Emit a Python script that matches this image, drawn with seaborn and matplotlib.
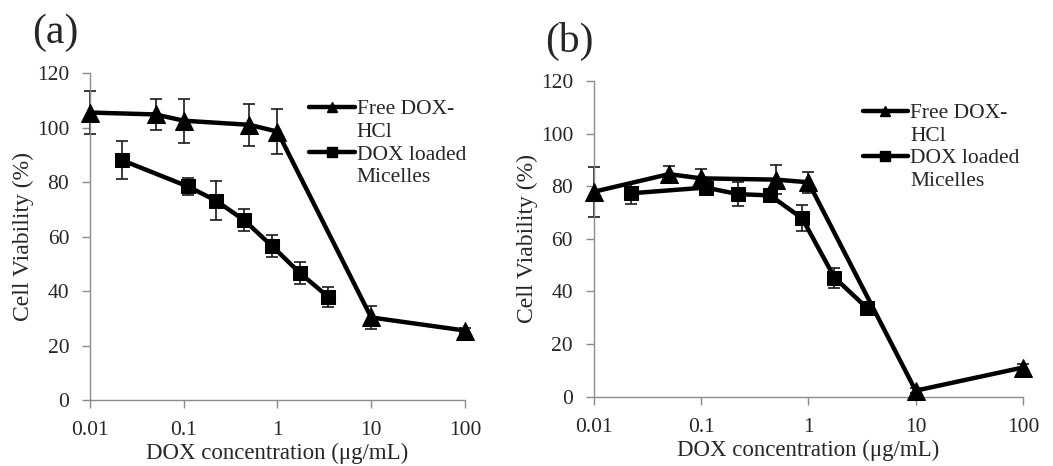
import numpy as np
import pandas as pd
import matplotlib
matplotlib.use('Agg')
import matplotlib.pyplot as plt
import seaborn as sns
from matplotlib.lines import Line2D

# ---- data ----
free_conc = [0.01, 0.05, 0.1, 0.5, 1, 10, 100]
mic_conc = [0.022, 0.11, 0.22, 0.44, 0.875, 1.75, 3.5]

a_free = [105.5, 104.8, 102.5, 101.0, 98.5, 30.3, 25.5]
a_free_err = [8.0, 5.7, 8.0, 7.8, 8.3, 4.2, 1.0]
a_mic = [88.0, 78.4, 73.2, 66.0, 56.5, 46.5, 37.8]
a_mic_err = [7.0, 3.0, 7.3, 4.0, 4.0, 4.0, 3.5]

b_free = [77.9, 84.6, 83.0, 82.5, 81.5, 2.3, 11.1]
b_free_err = [9.5, 3.0, 3.4, 5.5, 4.0, 1.0, 1.5]
b_mic = [77.3, 79.5, 77.0, 76.5, 67.8, 45.3, 33.8]
b_mic_err = [4.0, 3.0, 4.5, 2.0, 5.0, 3.8, 2.0]

series_names = ["Free DOX-HCl", "DOX loaded Micelles"]
legend_lines = ["Free DOX-", "HCl", "DOX loaded", "Micelles"]
x_ticks = [0.01, 0.1, 1, 10, 100]
x_ticklabels = ["0.01", "0.1", "1", "10", "100"]
y_ticks = [0, 20, 40, 60, 80, 100, 120]
xlabel = "DOX concentration (\u03bcg/mL)"
ylabel = "Cell Viability (%)"
panel_labels = ["(a)", "(b)"]

sns.set_style("white")
plt.rcParams['font.family'] = ['Liberation Serif', 'DejaVu Serif']

fig = plt.figure(figsize=(10.53, 4.66), dpi=100)
axA = fig.add_axes([0.0855, 0.1416, 0.356, 0.7017])
axB = fig.add_axes([0.564, 0.1487, 0.4074, 0.6775])

spine_color = '#8c8c8c'


def draw(ax, fy, fe, my, me, leg_anchor):
    df = pd.concat([
        pd.DataFrame({'conc': free_conc, 'viab': fy, 'series': series_names[0]}),
        pd.DataFrame({'conc': mic_conc, 'viab': my, 'series': series_names[1]}),
    ])
    ax.errorbar(free_conc, fy, yerr=fe, fmt='none', ecolor='#1a1a1a',
                elinewidth=1.2, capsize=4, capthick=1.2, zorder=2, clip_on=False)
    ax.errorbar(mic_conc, my, yerr=me, fmt='none', ecolor='#1a1a1a',
                elinewidth=1.2, capsize=4, capthick=1.2, zorder=2, clip_on=False)
    sns.lineplot(data=df, x='conc', y='viab', hue='series', style='series',
                 markers={series_names[0]: '^', series_names[1]: 's'},
                 dashes=False, palette=['black', 'black'], linewidth=3.2,
                 markersize=10.5, markeredgecolor='black', ax=ax, legend=False,
                 zorder=3, sort=False, clip_on=False)
    for ln in ax.lines:
        if ln.get_marker() == '^':
            ln.set_markersize(12.5)
    ax.set_xscale('log')
    ax.set_xlim(0.01, 100)
    ax.set_ylim(0, 120)
    ax.set_xticks(x_ticks)
    ax.set_xticklabels(x_ticklabels)
    ax.minorticks_off()
    ax.set_yticks(y_ticks)
    ax.tick_params(axis='both', which='major', labelsize=15.5, length=6,
                   width=1, color=spine_color, direction='out',
                   left=True, bottom=True, pad=9)
    for s in ['top', 'right']:
        ax.spines[s].set_visible(False)
    for s in ['left', 'bottom']:
        ax.spines[s].set_color(spine_color)
        ax.spines[s].set_linewidth(1.0)
    ax.set_xlabel(xlabel, fontsize=16.5, labelpad=2)
    ax.set_ylabel(ylabel, fontsize=17, labelpad=2)

    blank = Line2D([], [], color='none')
    h1 = Line2D([], [], color='black', lw=3.2, marker='^', markersize=7)
    h2 = Line2D([], [], color='black', lw=3.2, marker='s', markersize=6.5)
    ax.legend([h1, blank, h2, blank], legend_lines,
              loc='upper left', bbox_to_anchor=leg_anchor, frameon=False,
              fontsize=15.5, handlelength=2.1, handletextpad=0.1,
              labelspacing=0.12, borderpad=0, borderaxespad=0)


draw(axA, a_free, a_free_err, a_mic, a_mic_err, (0.585, 0.92))
draw(axB, b_free, b_free_err, b_mic, b_mic_err, (0.627, 0.93))

fig.text(55 / 1053, 1 - 33 / 466, panel_labels[0], fontsize=30, va='center', ha='center')
fig.text(569 / 1053, 1 - 41 / 466, panel_labels[1], fontsize=30, va='center', ha='center')

fig.savefig('out.png', dpi=100)
